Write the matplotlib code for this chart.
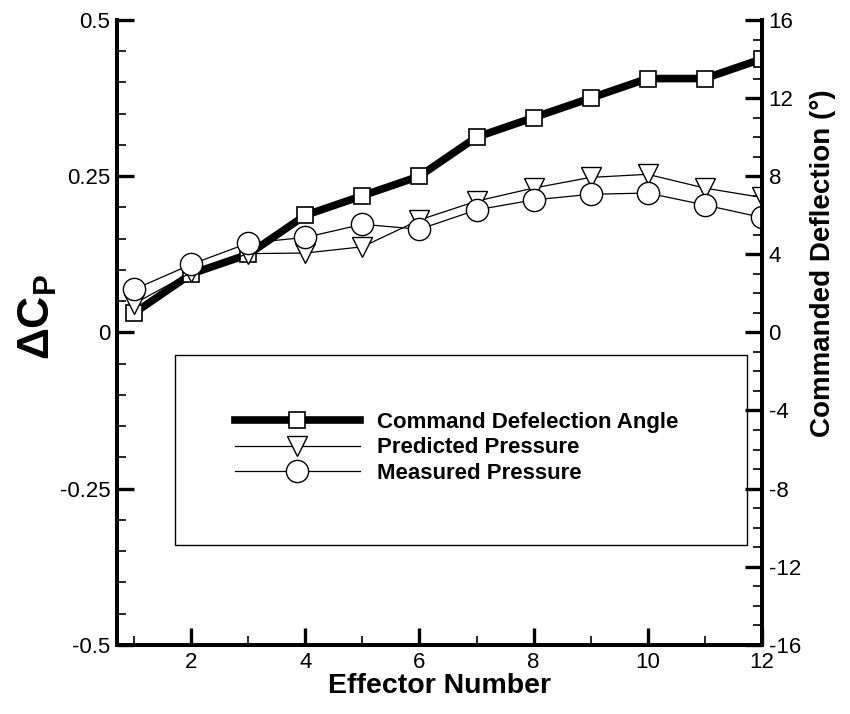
import matplotlib
matplotlib.use('Agg')
import matplotlib.pyplot as plt
from matplotlib.patches import Rectangle
from matplotlib.ticker import MultipleLocator

plt.rcParams['font.family'] = ['Liberation Sans', 'DejaVu Sans']
plt.rcParams['axes.unicode_minus'] = False
plt.rcParams['mathtext.fontset'] = 'custom'
plt.rcParams['mathtext.rm'] = 'Liberation Sans:bold'
plt.rcParams['mathtext.bf'] = 'Liberation Sans:bold'
plt.rcParams['mathtext.it'] = 'Liberation Sans:bold'

# effector data
effector = [1, 2, 3, 4, 5, 6, 7, 8, 9, 10, 11, 12]
command_deg = [1.0, 3.0, 4.0, 6.0, 7.0, 8.0, 10.0, 11.0, 12.0, 13.0, 13.0, 14.0]
predicted_cp = [0.046, 0.096, 0.126, 0.127, 0.137, 0.180, 0.210, 0.231, 0.248, 0.253, 0.231, 0.216]
measured_cp = [0.069, 0.109, 0.143, 0.152, 0.173, 0.165, 0.196, 0.212, 0.221, 0.223, 0.204, 0.184]

cp_ticks = [-0.5, -0.25, 0, 0.25, 0.5]
cp_labels = ['-0.5', '-0.25', '0', '0.25', '0.5']
deg_ticks = [-16, -12, -8, -4, 0, 4, 8, 12, 16]

fig = plt.figure(figsize=(8.5, 7.14), dpi=100)
ax = fig.add_axes([0.138, 0.097, 0.758, 0.875])
ax2 = ax.twinx()

# pressure axes on top so its markers sit over the thick command line
ax.set_zorder(ax2.get_zorder() + 1)
ax.patch.set_visible(False)

ln_cmd, = ax2.plot(effector, command_deg, color='black', lw=5.5,
                   marker='s', ms=11.5, mfc='white', mec='black', mew=1.2,
                   label='Command Defelection Angle')
ln_pred, = ax.plot(effector, predicted_cp, color='black', lw=0.9,
                   marker='v', ms=14, mfc='white', mec='black', mew=1.0,
                   label='Predicted Pressure')
ln_meas, = ax.plot(effector, measured_cp, color='black', lw=0.9,
                   marker='o', ms=16, mfc='white', mec='black', mew=1.0,
                   label='Measured Pressure')

ax.set_xlim(0.7, 12)
ax.set_ylim(-0.5, 0.5)
ax2.set_ylim(-16, 16)

ax.set_yticks(cp_ticks)
ax.set_yticklabels(cp_labels)
ax.yaxis.set_minor_locator(MultipleLocator(0.05))
ax.xaxis.set_major_locator(MultipleLocator(2))
ax.xaxis.set_minor_locator(MultipleLocator(1))
ax2.set_yticks(deg_ticks)
ax2.yaxis.set_minor_locator(MultipleLocator(1))

for a in (ax, ax2):
    a.spines['top'].set_visible(False)
    for s in ('left', 'right', 'bottom'):
        a.spines[s].set_linewidth(2.8)
    a.tick_params(which='major', direction='in', length=12, width=2.4,
                  labelsize=16, pad=5)
    a.tick_params(which='minor', direction='in', length=6.5, width=1.2)
ax.tick_params(axis='y', right=False)
ax2.tick_params(axis='x', bottom=False)

ax.set_xlabel('Effector Number', fontsize=20.5, fontweight='bold', labelpad=0)
ax.set_ylabel(r'$\Delta\mathrm{C}_\mathrm{P}$', fontsize=32)
ax.yaxis.set_label_coords(-0.09, 0.525)
ax2.set_ylabel('Commanded Deflection (°)', fontsize=20, fontweight='bold')
ax2.yaxis.set_label_coords(1.075, 0.61)

# legend frame drawn as a plain box, entries placed inside it
ax.add_patch(Rectangle((0.09, 0.16), 0.888, 0.303, transform=ax.transAxes,
                       fill=False, edgecolor='black', lw=1.0, zorder=5))
leg = ax.legend(handles=[ln_cmd, ln_pred, ln_meas], loc='center left',
                bbox_to_anchor=(0.183, 0.315), frameon=False, borderpad=0,
                borderaxespad=0, handlelength=5.6, handletextpad=0.8,
                labelspacing=0.2, prop={'weight': 'bold', 'size': 16})

fig.savefig('out.png', dpi=100)
